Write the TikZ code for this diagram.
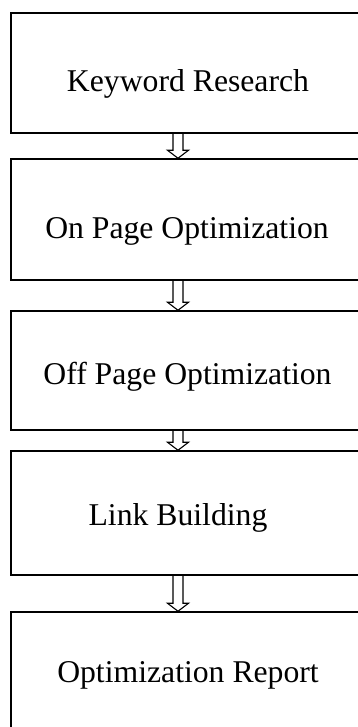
\documentclass[tikz,border=0pt]{standalone}
\usepackage{fontspec}
\setmainfont{Liberation Serif}
\usetikzlibrary{calc}
\newcommand\hollowarrow[2]{%
  \draw[arr] let \p1=(#1.south -| ax), \p2=(#2.north -| ax) in
    (\x1-5pt,\y1) -- (\x1-5pt,\y2+8pt) -- (\x1-10.5pt,\y2+8pt) -- (\x2,\y2)
    -- (\x1+10.5pt,\y2+8pt) -- (\x1+5pt,\y2+8pt) -- (\x1+5pt,\y1);}
\begin{document}
\begin{tikzpicture}[x=1pt,y=-1pt,
  box/.style={draw=black, line width=1.5pt, minimum width=355pt, inner sep=0pt},
  lbl/.style={anchor=base, inner sep=0pt, font=\fontsize{31.7pt}{38pt}\selectfont},
  arr/.style={draw=black, line width=1.1pt, line join=miter}]
\useasboundingbox (0,0) rectangle (358,727);
\clip (0,0) rectangle (358,727);
\fill[white] (0,0) rectangle (358,727);
\coordinate (ax) at (178,0);
% boxes
\node[box, minimum height=120pt] (b1) at (188.5,73) {};
\node[box, minimum height=121pt] (b2) at (188.5,219.5) {};
\node[box, minimum height=119pt] (b3) at (188.5,370.5) {};
\node[box, minimum height=124pt] (b4) at (188.5,513) {};
\node[box, minimum height=148pt] (b5) at (188.5,686) {};
% labels
\node[lbl] (t1) at (188,92) {Keyword Research};
\node[lbl] (t2) at (187,238) {On Page Optimization};
\node[lbl] (t3) at (187.5,384) {Off Page Optimization};
\node[lbl] (t4) at (178,525) {Link Building};
\node[lbl] (t5) at (188,682) {Optimization Report};
% arrows
\hollowarrow{b1}{b2}
\hollowarrow{b2}{b3}
\hollowarrow{b3}{b4}
\hollowarrow{b4}{b5}
\end{tikzpicture}
\end{document}
